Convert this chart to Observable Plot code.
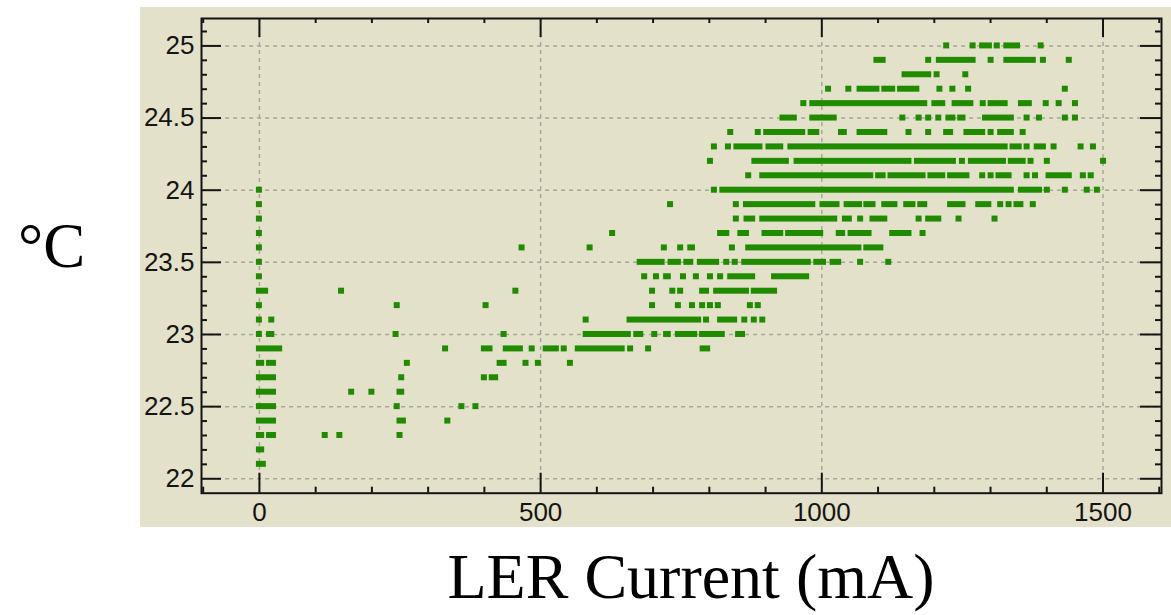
<!DOCTYPE html>
<html>
<head>
<meta charset="utf-8">
<script src="https://cdn.jsdelivr.net/npm/d3@7"></script>
<script src="https://cdn.jsdelivr.net/npm/@observablehq/plot@0.6"></script>
<style>
  body { margin: 0; background: #fff; }
  #page { position: relative; width: 1171px; height: 615px; overflow: hidden; background: #fff; }
  #chart { position: absolute; left: 140px; top: 7px; width: 1031px; height: 520px; background: #e4e1cb; }
  .label { position: absolute; font-family: "Liberation Serif", "Times New Roman", serif; color: #000; line-height: 1; white-space: nowrap; }
</style>
</head>
<body>
<div id="page">
  <div id="chart"></div>
  <div class="label" style="left:18px; top:215px; font-size:63px;">°C</div>
  <div class="label" style="left:391px; width:600px; text-align:center; top:545px; font-size:64px;">LER Current (mA)</div>
</div>
<script>
// Temperature levels (°C), logged in 0.1 °C steps
const temperatures = [
  25.0, 24.9, 24.8, 24.7, 24.6, 24.5, 24.4, 24.3, 24.2, 24.1,
  24.0, 23.9, 23.8, 23.7, 23.6, 23.5, 23.4, 23.3, 23.2, 23.1,
  23.0, 22.9, 22.8, 22.7, 22.6, 22.5, 22.4, 22.3, 22.2, 22.1
];

// LER current (mA) recorded at each temperature level above.
// A plain number is a single reading; [from, to] is a run of back-to-back readings.
const currentReadings = [
  /* 25.0 */ [1222, 1269, [1286, 1298], 1312, [1329, 1348], 1390],
  /* 24.9 */ [[1098, 1109], 1190, [1209, 1269], 1301, [1329, 1376], 1394, 1440],
  /* 24.8 */ [[1148, 1190], 1205, 1256],
  /* 24.7 */ [1012, 1048, [1068, 1098], [1112, 1126], [1140, 1169], 1210, 1233, 1261, 1433],
  /* 24.6 */ [968, [984, 1183], [1201, 1215], [1237, 1265], 1287, [1301, 1326], [1355, 1369], 1399, 1422, 1451],
  /* 24.5 */ [[931, 951], [984, 1022], 1144, 1173, 1190, 1208, [1226, 1233], [1247, 1251], [1291, 1337], 1365, 1387, 1433, 1451],
  /* 24.4 */ [838, 887, [902, 966], [981, 991], [1035, 1040], [1068, 1112], 1155, 1190, [1222, 1229], [1258, 1286], 1301, [1318, 1337], 1358],
  /* 24.3 */ [809, 834, [849, 890], [906, 927], [945, 1326], [1340, 1351], 1365, [1383, 1394], 1413, 1461, 1483],
  /* 24.2 */ [802, [881, 937], [956, 1155], [1170, 1234], 1250, [1266, 1323], [1337, 1358], 1372, 1401, 1501],
  /* 24.1 */ [870, [895, 1087], [1101, 1109], [1123, 1180], [1194, 1215], [1229, 1258], 1286, 1301, [1315, 1333], 1365, 1380, [1404, 1440], 1465, 1479],
  /* 24.0 */ [0, 809, [824, 1337], [1355, 1387], 1401, 1433, 1472, 1490],
  /* 23.9 */ [0, 731, 848, [866, 984], [1002, 1027], [1045, 1067], [1080, 1091], [1112, 1130], [1151, 1162], [1176, 1183], [1229, 1251], [1279, 1297], 1318, 1333, [1347, 1354], 1376],
  /* 23.8 */ [0, 848, [867, 877], [895, 1023], [1042, 1049], 1069, [1091, 1112], 1173, [1190, 1208], 1244, 1308],
  /* 23.7 */ [0, 628, [820, 831], [856, 866], [899, 927], [941, 998], [1031, 1037], [1052, 1084], [1126, 1155], 1180],
  /* 23.6 */ [0, 467, 588, 720, 749, [767, 770], 841, [870, 1066], [1080, 1105]],
  /* 23.5 */ [0, [677, 716], [732, 745], [760, 767], [784, 813], 831, 846, [863, 976], [991, 1003], [1020, 1030], 1069, 1119],
  /* 23.4 */ [0, 685, 706, [724, 727], 754, 777, 802, 820, [838, 877], [916, 973]],
  /* 23.3 */ [[0, 11], 146, 456, 699, 735, 749, [788, 795], [813, 866], [880, 916]],
  /* 23.2 */ [0, 245, 403, 699, 745, 770, 788, 802, 816, 873, 887],
  /* 23.1 */ [0, 22, 581, [659, 781], 795, [820, 845], 863, 880, 895],
  /* 23.0 */ [0, [18, 22], 243, 435, [581, 656], [671, 678], 703, [724, 727], [745, 774], [788, 823], [852, 859]],
  /* 22.9 */ [[0, 36], 331, [400, 410], [439, 464], 485, [510, 528], 542, [567, 645], 660, 692, [789, 797]],
  /* 22.8 */ [[0, 4], [18, 25], 263, [428, 435], 474, 496, 553],
  /* 22.7 */ [[0, 25], 253, 400, [414, 420]],
  /* 22.6 */ [[0, 25], 164, 200, [250, 253]],
  /* 22.5 */ [[0, 25], 245, 360, 385],
  /* 22.4 */ [[0, 25], [250, 256], 335],
  /* 22.3 */ [[0, 4], [18, 25], 117, 143, 250],
  /* 22.2 */ [[0, 4]],
  /* 22.1 */ [[0, 7]]
];

// Axis ticks
const xMajorTicks = [0, 500, 1000, 1500];
const xMinorTicks = [-100, 100, 200, 300, 400, 600, 700, 800, 900, 1100, 1200, 1300, 1400, 1600];
const yMajorTicks = [22, 22.5, 23, 23.5, 24, 24.5, 25];
const yMinorTicks = [22.1, 22.2, 22.3, 22.4, 22.6, 22.7, 22.8, 22.9, 23.1, 23.2, 23.3, 23.4,
                     23.6, 23.7, 23.8, 23.9, 24.1, 24.2, 24.3, 24.4, 24.6, 24.7, 24.8, 24.9, 25.1];
const xTickLabels = ["0", "500", "1000", "1500"];
const yTickLabels = ["22", "22.5", "23", "23.5", "24", "24.5", "25"];

// One record per run (a single reading is a run of length zero)
const runs = temperatures.flatMap((t, i) =>
  currentReadings[i].map(r => {
    const [from, to] = Array.isArray(r) ? r : [r, r];
    return {t, from, to};
  })
);

const W = 1031, H = 520;
const mL = 61, mR = 10, mT = 11, mB = 34.3;
const frameW = W - mL - mR, frameH = H - mT - mB;
const ink = "#141414", dot = "#1f8c00", gridColor = "#a9a79b";
const tickFont = "'Liberation Sans', Arial, Helvetica, sans-serif";

const tickStyle = {stroke: ink, strokeWidth: 2};

const chart = Plot.plot({
  width: W,
  height: H,
  marginLeft: mL,
  marginRight: mR,
  marginTop: mT,
  marginBottom: mB,
  style: {background: "transparent", overflow: "visible", fontFamily: tickFont},
  x: {domain: [-103, 1604], axis: null},
  y: {domain: [21.9, 25.19], axis: null},
  marks: [
    // dashed grid at the labelled ticks
    Plot.gridX(xMajorTicks, {stroke: gridColor, strokeOpacity: 1, strokeWidth: 1.5, strokeDasharray: "4,4"}),
    Plot.gridY(yMajorTicks, {stroke: gridColor, strokeOpacity: 1, strokeWidth: 1.5, strokeDasharray: "4,4"}),

    // readings: 6px squares, stretched along x for consecutive runs
    Plot.rect(runs, {x1: "from", x2: "to", y1: "t", y2: "t", inset: -3, fill: dot}),

    // inward ticks on all four sides
    Plot.tickX(xMajorTicks, {x: d => d, insetTop: frameH - 20, ...tickStyle}),
    Plot.tickX(xMajorTicks, {x: d => d, insetBottom: frameH - 19, ...tickStyle}),
    Plot.tickX(xMinorTicks, {x: d => d, insetTop: frameH - 6, ...tickStyle}),
    Plot.tickX(xMinorTicks, {x: d => d, insetBottom: frameH - 5, ...tickStyle}),
    Plot.tickY(yMajorTicks, {y: d => d, insetRight: frameW - 20, ...tickStyle}),
    Plot.tickY(yMajorTicks, {y: d => d, insetLeft: frameW - 21, ...tickStyle}),
    Plot.tickY(yMinorTicks, {y: d => d, insetRight: frameW - 6, ...tickStyle}),
    Plot.tickY(yMinorTicks, {y: d => d, insetLeft: frameW - 6, ...tickStyle}),

    Plot.frame({stroke: ink, strokeWidth: 2}),

    // tick labels
    Plot.text(xMajorTicks, {x: d => d, text: (d, i) => xTickLabels[i], frameAnchor: "bottom", lineAnchor: "top",
                            dy: 9, fontSize: 26, fill: ink}),
    Plot.text(yMajorTicks, {y: d => d, text: (d, i) => yTickLabels[i], frameAnchor: "left", textAnchor: "end",
                            dx: -7, fontSize: 26, fill: ink})
  ]
});

document.getElementById("chart").appendChild(chart);
</script>
</body>
</html>
